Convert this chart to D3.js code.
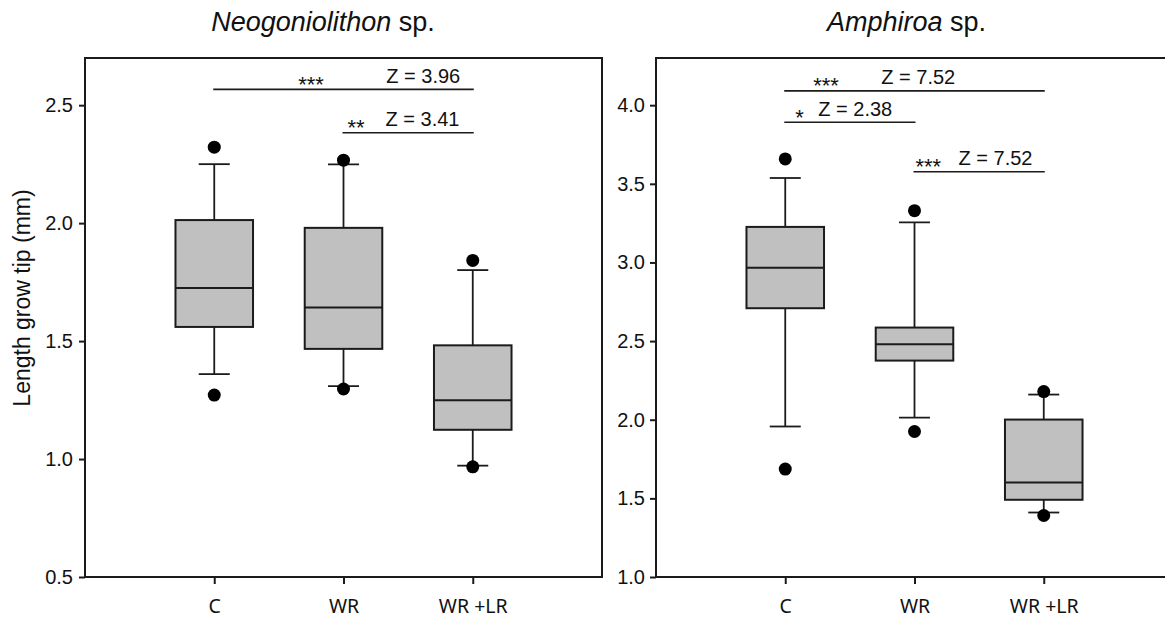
<!DOCTYPE html>
<html>
<head>
<meta charset="utf-8">
<script src="https://cdn.jsdelivr.net/npm/d3@7"></script>
<style>
  html, body { margin: 0; padding: 0; background: #fff; }
  svg { display: block; }
</style>
</head>
<body>
<svg id="chart" width="1165" height="618"></svg>
<script>
// Treatment groups shared by both species
const categories = ["C", "WR", "WR +LR"];

// Neogoniolithon sp. – tip growth length (mm)
const neoQ1          = [1.560, 1.467, 1.124];
const neoMedian      = [1.725, 1.642, 1.249];
const neoQ3          = [2.013, 1.980, 1.482];
const neoWhiskerLow  = [1.360, 1.309, 0.972];
const neoWhiskerHigh = [2.250, 2.249, 1.801];
const neoOutlierLow  = [1.271, 1.297, 0.967];
const neoOutlierHigh = [2.322, 2.267, 1.842];
const neoTicks  = [0.5, 1.0, 1.5, 2.0, 2.5];
const neoDomain = [0.5, 2.7];

// Amphiroa sp. – tip growth length (mm)
const amphQ1          = [2.709, 2.376, 1.491];
const amphMedian      = [2.967, 2.480, 1.601];
const amphQ3          = [3.226, 2.586, 2.001];
const amphWhiskerLow  = [1.957, 2.014, 1.410];
const amphWhiskerHigh = [3.537, 3.255, 2.160];
const amphOutlierLow  = [1.686, 1.925, 1.391];
const amphOutlierHigh = [3.658, 3.329, 2.179];
const amphTicks  = [1.0, 1.5, 2.0, 2.5, 3.0, 3.5, 4.0];
const amphDomain = [1.0, 4.3];

// Pairwise comparisons (group indices, significance, test statistic)
const neoPairs   = [[0, 2], [1, 2]];
const neoStars   = ["***", "**"];
const neoZ       = [3.96, 3.41];
const amphPairs  = [[0, 2], [0, 1], [1, 2]];
const amphStars  = ["***", "*", "***"];
const amphZ      = [7.52, 2.38, 7.52];

// Bracket heights (data units) and label offsets from bracket start (px)
const neoBracketY   = [2.567, 2.383];
const neoLabelDx    = [[85, 173], [5, 43]];
const amphBracketY  = [4.091, 3.891, 3.577];
const amphLabelDx   = [[29, 97], [11, 34], [2, 45]];

const svg = d3.select("#chart");
const plotTop = 58, plotBottom = 577;
const ink = "#1b1b1b";

function panel(opts) {
  const g = svg.append("g");
  const x = d3.scalePoint().domain(categories).range([opts.left, opts.right]).padding(1);
  const y = d3.scaleLinear().domain(opts.domain).range([plotBottom, plotTop]);
  const step = x.step();
  const boxW = step * 0.6;
  const capW = step * 0.24;

  // y axis ticks + labels
  const ya = g.append("g")
    .attr("transform", `translate(${opts.left},0)`)
    .call(d3.axisLeft(y).tickValues(opts.ticks).tickFormat(d3.format(".1f"))
      .tickSize(6).tickSizeOuter(0).tickPadding(opts.yPad));
  ya.select(".domain").remove();
  ya.selectAll("line").attr("stroke", ink).attr("stroke-width", 2);
  ya.selectAll("text").attr("fill", "#111")
    .style("font-family", "'Liberation Sans', Arial, sans-serif").style("font-size", "20px");

  // x axis ticks + labels
  const xa = g.append("g")
    .attr("transform", `translate(0,${plotBottom})`)
    .call(d3.axisBottom(x).tickSize(7).tickSizeOuter(0).tickPadding(15));
  xa.select(".domain").remove();
  xa.selectAll("line").attr("stroke", ink).attr("stroke-width", 2);
  xa.selectAll("text").attr("fill", "#111")
    .style("font-family", "'Noto Sans', sans-serif").style("font-size", "19.5px");

  // frame
  g.append("rect")
    .attr("x", opts.left).attr("y", plotTop)
    .attr("width", opts.right - opts.left).attr("height", plotBottom - plotTop)
    .attr("fill", "none").attr("stroke", ink).attr("stroke-width", 2);

  const rows = categories.map((c, i) => ({
    c, q1: opts.q1[i], med: opts.median[i], q3: opts.q3[i],
    lo: opts.wLow[i], hi: opts.wHigh[i], oLo: opts.oLow[i], oHi: opts.oHigh[i]
  }));

  const b = g.selectAll(".box").data(rows).join("g").attr("class", "box");
  // whiskers
  b.append("line").attr("x1", d => x(d.c)).attr("x2", d => x(d.c))
    .attr("y1", d => y(d.q3)).attr("y2", d => y(d.hi))
    .attr("stroke", ink).attr("stroke-width", 1.8);
  b.append("line").attr("x1", d => x(d.c)).attr("x2", d => x(d.c))
    .attr("y1", d => y(d.q1)).attr("y2", d => y(d.lo))
    .attr("stroke", ink).attr("stroke-width", 1.8);
  // caps
  b.append("line").attr("x1", d => x(d.c) - capW / 2).attr("x2", d => x(d.c) + capW / 2)
    .attr("y1", d => y(d.hi)).attr("y2", d => y(d.hi))
    .attr("stroke", ink).attr("stroke-width", 1.8);
  b.append("line").attr("x1", d => x(d.c) - capW / 2).attr("x2", d => x(d.c) + capW / 2)
    .attr("y1", d => y(d.lo)).attr("y2", d => y(d.lo))
    .attr("stroke", ink).attr("stroke-width", 1.8);
  // box
  b.append("rect").attr("x", d => x(d.c) - boxW / 2).attr("width", boxW)
    .attr("y", d => y(d.q3)).attr("height", d => y(d.q1) - y(d.q3))
    .attr("fill", "#c0c0c0").attr("stroke", ink).attr("stroke-width", 2);
  // median
  b.append("line").attr("x1", d => x(d.c) - boxW / 2).attr("x2", d => x(d.c) + boxW / 2)
    .attr("y1", d => y(d.med)).attr("y2", d => y(d.med))
    .attr("stroke", ink).attr("stroke-width", 2);
  // outliers (5th / 95th percentile points)
  b.append("circle").attr("cx", d => x(d.c)).attr("cy", d => y(d.oHi)).attr("r", 6.5).attr("fill", "#000");
  b.append("circle").attr("cx", d => x(d.c)).attr("cy", d => y(d.oLo)).attr("r", 6.5).attr("fill", "#000");

  // significance brackets
  opts.pairs.forEach((p, i) => {
    const x1 = x(categories[p[0]]) - 1, x2 = x(categories[p[1]]) + 1;
    const yy = y(opts.bracketY[i]);
    g.append("line").attr("x1", x1).attr("x2", x2).attr("y1", yy).attr("y2", yy)
      .attr("stroke", ink).attr("stroke-width", 1.6);
    g.append("text").attr("x", x1 + opts.labelDx[i][0]).attr("y", yy - 6.5).attr("dy", "9px")
      .style("font-family", "'Liberation Sans', Arial, sans-serif").style("font-size", "22px")
      .attr("fill", "#111").text(opts.stars[i]);
    g.append("text").attr("x", x1 + opts.labelDx[i][1]).attr("y", yy - 6.5)
      .style("font-family", "'Liberation Sans', Arial, sans-serif").style("font-size", "20px")
      .attr("fill", "#111").text("Z = " + opts.z[i].toFixed(2));
  });

  // title
  const t = svg.append("text").attr("x", opts.titleX).attr("y", 31)
    .attr("text-anchor", "middle")
    .style("font-family", "'Liberation Sans', Arial, sans-serif").style("font-size", "27px")
    .attr("fill", "#111");
  t.append("tspan").style("font-style", "italic").text(opts.genus);
  t.append("tspan").text(" sp.");
}

panel({
  left: 85, right: 602, domain: neoDomain, ticks: neoTicks, yPad: 6,
  q1: neoQ1, median: neoMedian, q3: neoQ3, wLow: neoWhiskerLow, wHigh: neoWhiskerHigh,
  oLow: neoOutlierLow, oHigh: neoOutlierHigh,
  pairs: neoPairs, stars: neoStars, z: neoZ, bracketY: neoBracketY, labelDx: neoLabelDx,
  genus: "Neogoniolithon", titleX: 323
});

panel({
  left: 656, right: 1173, domain: amphDomain, ticks: amphTicks, yPad: 5,
  q1: amphQ1, median: amphMedian, q3: amphQ3, wLow: amphWhiskerLow, wHigh: amphWhiskerHigh,
  oLow: amphOutlierLow, oHigh: amphOutlierHigh,
  pairs: amphPairs, stars: amphStars, z: amphZ, bracketY: amphBracketY, labelDx: amphLabelDx,
  genus: "Amphiroa", titleX: 906.5
});

// shared y-axis title
svg.append("text")
  .attr("transform", "translate(30,298) rotate(-90)")
  .attr("text-anchor", "middle")
  .style("font-family", "'Liberation Sans', Arial, sans-serif").style("font-size", "23px")
  .attr("fill", "#111")
  .text("Length grow tip (mm)");
</script>
</body>
</html>
